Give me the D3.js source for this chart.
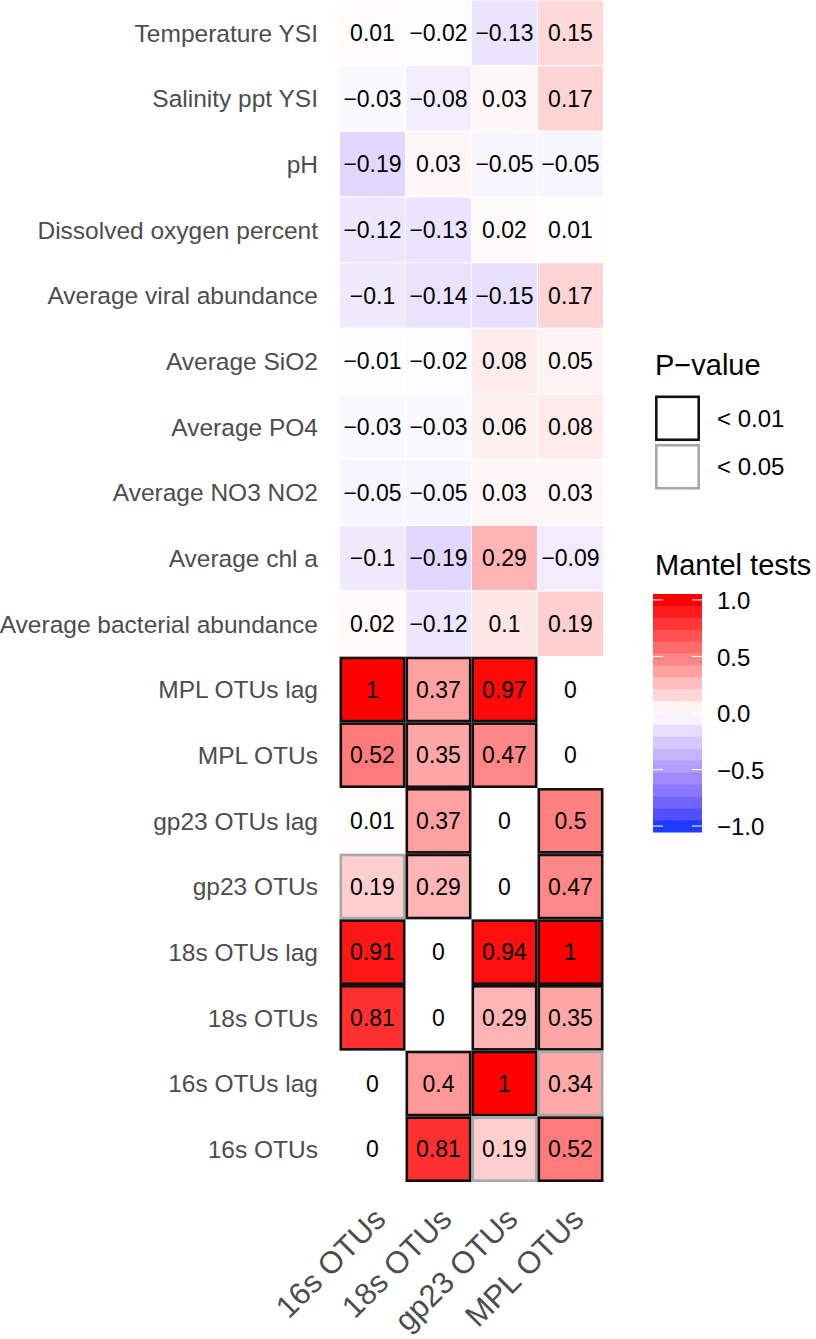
<!DOCTYPE html>
<html>
<head>
<meta charset="utf-8">
<script src="https://cdn.jsdelivr.net/npm/d3@7"></script>
<style>
  html, body { margin: 0; padding: 0; background: #ffffff; }
  svg { display: block; font-family: "Liberation Sans", Arial, Helvetica, sans-serif; }
</style>
</head>
<body>
<svg id="chart" width="816" height="1339"></svg>
<script>
// ---------- data ----------
const rowLabels = [
  "Temperature YSI", "Salinity ppt YSI", "pH", "Dissolved oxygen percent",
  "Average viral abundance", "Average SiO2", "Average PO4", "Average NO3 NO2",
  "Average chl a", "Average bacterial abundance",
  "MPL OTUs lag", "MPL OTUs", "gp23 OTUs lag", "gp23 OTUs",
  "18s OTUs lag", "18s OTUs", "16s OTUs lag", "16s OTUs"
];
const colLabels = ["16s OTUs", "18s OTUs", "gp23 OTUs", "MPL OTUs"];
const cellValues = [
  [0.01, -0.02, -0.13, 0.15],
  [-0.03, -0.08, 0.03, 0.17],
  [-0.19, 0.03, -0.05, -0.05],
  [-0.12, -0.13, 0.02, 0.01],
  [-0.1, -0.14, -0.15, 0.17],
  [-0.01, -0.02, 0.08, 0.05],
  [-0.03, -0.03, 0.06, 0.08],
  [-0.05, -0.05, 0.03, 0.03],
  [-0.1, -0.19, 0.29, -0.09],
  [0.02, -0.12, 0.1, 0.19],
  [1, 0.37, 0.97, 0],
  [0.52, 0.35, 0.47, 0],
  [0.01, 0.37, 0, 0.5],
  [0.19, 0.29, 0, 0.47],
  [0.91, 0, 0.94, 1],
  [0.81, 0, 0.29, 0.35],
  [0, 0.4, 1, 0.34],
  [0, 0.81, 0.19, 0.52]
];
// significance: "" none, "a" = < 0.01, "b" = < 0.05
const cellSig = [
  ["", "", "", ""], ["", "", "", ""], ["", "", "", ""], ["", "", "", ""], ["", "", "", ""],
  ["", "", "", ""], ["", "", "", ""], ["", "", "", ""], ["", "", "", ""], ["", "", "", ""],
  ["a", "a", "a", ""],
  ["a", "a", "a", ""],
  ["", "a", "", "a"],
  ["b", "a", "", "a"],
  ["a", "", "a", "a"],
  ["a", "", "a", "a"],
  ["", "a", "a", "b"],
  ["", "a", "b", "a"]
];
const pLegendLabels = ["< 0.01", "< 0.05"];
const pLegendKeys = ["a", "b"];
const colorbarTicks = [1.0, 0.5, 0.0, -0.5, -1.0];
const colorbarBins = 20;

// ---------- helpers ----------
const fmt = v => String(v).replace("-", "\u2212");
const redScale = d3.scaleLinear().domain([0, 1]).range(["#ffffff", "#ff0000"]);
const blueScale = d3.scaleLinear().domain([0, -1]).range(["#ffffff", "#1e3cff"]).interpolate(d3.interpolateLab);
const fillColor = v => v >= 0 ? redScale(v) : blueScale(v);
const sigStroke = { a: "#111111", b: "#a3aba9" };

const svg = d3.select("#chart");
const x = d3.scaleBand().domain(colLabels).range([339.5, 603.5]);
const y = d3.scaleBand().domain(rowLabels).range([0, 1182]);

const cells = [];
rowLabels.forEach((r, i) => colLabels.forEach((c, j) => {
  cells.push({ row: r, col: c, v: cellValues[i][j], sig: cellSig[i][j] });
}));

// plain tiles
svg.append("g").selectAll("rect")
  .data(cells.filter(d => !d.sig))
  .join("rect")
  .attr("x", d => x(d.col)).attr("y", d => y(d.row))
  .attr("width", x.bandwidth()).attr("height", y.bandwidth())
  .attr("fill", d => fillColor(d.v))
  .attr("stroke", "#ffffff").attr("stroke-width", 1);

// significant tiles
const sw = 2.6;
svg.append("g").selectAll("rect")
  .data(cells.filter(d => d.sig))
  .join("rect")
  .attr("x", d => x(d.col) + sw / 2).attr("y", d => y(d.row) + sw / 2)
  .attr("width", x.bandwidth() - sw).attr("height", y.bandwidth() - sw)
  .attr("fill", d => fillColor(d.v))
  .attr("stroke", d => sigStroke[d.sig]).attr("stroke-width", sw);

// cell text
svg.append("g").selectAll("text")
  .data(cells)
  .join("text")
  .attr("x", d => x(d.col) + x.bandwidth() / 2)
  .attr("y", d => y(d.row) + y.bandwidth() / 2)
  .attr("dy", "0.36em")
  .attr("text-anchor", "middle")
  .attr("font-size", 23)
  .attr("fill", "#000000")
  .text(d => fmt(d.v));

// y axis
const yAxis = svg.append("g")
  .attr("transform", "translate(339.5,0)")
  .call(d3.axisLeft(y).tickSize(0).tickPadding(21.5));
yAxis.select(".domain").remove();
yAxis.selectAll("text")
  .attr("font-size", 24.5).attr("fill", "#4d4d4d")
  .attr("font-family", "Liberation Sans, Arial, sans-serif")
  .attr("dy", "0.36em");

// x axis
const xAxis = svg.append("g")
  .attr("transform", "translate(0,1182)")
  .call(d3.axisBottom(x).tickSize(0));
xAxis.select(".domain").remove();
xAxis.selectAll("text")
  .attr("y", null).attr("dy", null).attr("x", null)
  .attr("text-anchor", "end")
  .attr("transform", "translate(15,39) rotate(-45)")
  .attr("font-size", 31).attr("fill", "#4d4d4d")
  .attr("font-family", "Liberation Sans, Arial, sans-serif");

// ---------- P-value legend ----------
const lg = svg.append("g");
lg.append("text").attr("x", 655).attr("y", 375)
  .attr("font-size", 29).attr("fill", "#000").text("P\u2212value");
const keyY = d3.scaleBand().domain(pLegendKeys).range([395.5, 489.5]).paddingInner(0.06);
lg.selectAll("rect.key").data(pLegendKeys).join("rect")
  .attr("class", "key")
  .attr("x", 655 + 1.3).attr("y", d => keyY(d) + 1.3)
  .attr("width", 45 - 2.6).attr("height", keyY.bandwidth() - 2.6)
  .attr("fill", "#ffffff")
  .attr("stroke", d => sigStroke[d]).attr("stroke-width", 2.6);
lg.selectAll("text.klab").data(pLegendKeys).join("text")
  .attr("class", "klab")
  .attr("x", 717).attr("y", d => keyY(d) + keyY.bandwidth() / 2)
  .attr("dy", "0.36em")
  .attr("font-size", 24).attr("fill", "#000")
  .text((d, i) => pLegendLabels[i]);

// ---------- colour bar legend ----------
lg.append("text").attr("x", 655).attr("y", 575)
  .attr("font-size", 29).attr("fill", "#000").text("Mantel tests");
const barTop = 594, barBot = 832, barX = 653, barW = 49;
const binH = (barBot - barTop) / colorbarBins;
const binVals = d3.range(colorbarBins).map(i => 1 - i * 2 / (colorbarBins - 1));
lg.selectAll("rect.bin").data(binVals).join("rect")
  .attr("class", "bin")
  .attr("x", barX).attr("y", (d, i) => barTop + i * binH)
  .attr("width", barW).attr("height", binH + 0.5)
  .attr("fill", d => fillColor(d));
const cb = d3.scaleLinear().domain([1, -1]).range([barTop + binH / 2, barBot - binH / 2]);
lg.selectAll("line.tl").data(colorbarTicks).join("line")
  .attr("class", "tl")
  .attr("x1", barX).attr("x2", barX + 10)
  .attr("y1", d => cb(d)).attr("y2", d => cb(d))
  .attr("stroke", "#ffffff").attr("stroke-width", 1);
lg.selectAll("line.tr").data(colorbarTicks).join("line")
  .attr("class", "tr")
  .attr("x1", barX + barW - 10).attr("x2", barX + barW)
  .attr("y1", d => cb(d)).attr("y2", d => cb(d))
  .attr("stroke", "#ffffff").attr("stroke-width", 1);
const cAxis = lg.append("g")
  .attr("transform", `translate(${barX + barW},0)`)
  .call(d3.axisRight(cb).tickValues(colorbarTicks).tickSize(0).tickPadding(15)
    .tickFormat(d => d3.format(".1f")(d).replace("-", "\u2212")));
cAxis.select(".domain").remove();
cAxis.selectAll("text").attr("font-size", 24).attr("fill", "#000")
  .attr("font-family", "Liberation Sans, Arial, sans-serif")
  .attr("dy", "0.36em");
</script>
</body>
</html>
